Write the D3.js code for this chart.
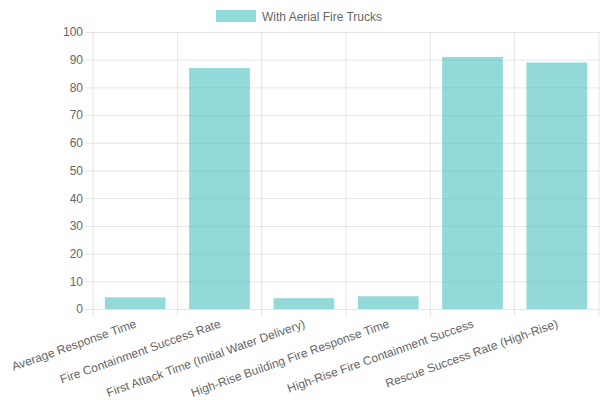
<!DOCTYPE html>
<html>
<head>
<meta charset="utf-8">
<script src="https://cdn.jsdelivr.net/npm/d3@7"></script>
<style>
  body { margin: 0; background: #fff; }
  svg { font-family: "Liberation Sans", Arial, sans-serif; }
</style>
</head>
<body>
<div id="chart"></div>
<script>
const categories = [
  "Average Response Time",
  "Fire Containment Success Rate",
  "First Attack Time (Initial Water Delivery)",
  "High-Rise Building Fire Response Time",
  "High-Rise Fire Containment Success",
  "Rescue Success Rate (High-Rise)"
];
const seriesName = "With Aerial Fire Trucks";
const values = [4.2, 87, 3.9, 4.6, 91, 89];
const yTicks = [0, 10, 20, 30, 40, 50, 60, 70, 80, 90, 100];

const width = 600, height = 400;
const margin = {top: 32, right: 1, bottom: 91, left: 93};
const innerW = width - margin.left - margin.right;
const innerH = height - margin.top - margin.bottom;

const fill = "rgba(75,192,192,0.6)";
const grid = "rgba(0,0,0,0.1)";
const textColor = "#666";

const svg = d3.select("#chart").append("svg")
  .attr("width", width)
  .attr("height", height);

// legend
const legend = svg.append("g").attr("transform", "translate(216,10)");
legend.append("rect").attr("width", 40).attr("height", 12).attr("fill", fill);
legend.append("text")
  .attr("x", 46).attr("y", 10.5)
  .attr("font-size", 12).attr("fill", textColor)
  .text(seriesName);

const g = svg.append("g")
  .attr("transform", "translate(" + margin.left + "," + margin.top + ")");

const x = d3.scaleBand().domain(categories).range([0, innerW]);
const y = d3.scaleLinear().domain([0, 100]).range([innerH, 0]);

// horizontal grid + y ticks
g.append("g")
  .call(d3.axisLeft(y).tickValues(yTicks).tickSize(-innerW).tickPadding(10))
  .call(s => s.select(".domain").remove())
  .call(s => s.selectAll(".tick line").attr("stroke", grid).attr("x1", -8))
  .call(s => s.selectAll(".tick text")
    .attr("fill", textColor).attr("font-size", 12)
    .attr("font-family", "Liberation Sans, Arial, sans-serif"));

// vertical grid lines at category edges
const edges = categories.map(c => x(c)).concat([innerW]);
g.append("g").selectAll("line")
  .data(edges)
  .join("line")
  .attr("x1", d => d).attr("x2", d => d)
  .attr("y1", 0).attr("y2", innerH + 8)
  .attr("stroke", grid);

// bars
const barW = x.bandwidth() * 0.72;
g.append("g").selectAll("rect")
  .data(values)
  .join("rect")
  .attr("x", (d, i) => x(categories[i]) + (x.bandwidth() - barW) / 2)
  .attr("y", d => y(d))
  .attr("width", barW)
  .attr("height", d => innerH - y(d))
  .attr("fill", fill);

// x labels, rotated
g.append("g").selectAll("text")
  .data(categories)
  .join("text")
  .attr("transform", d => "translate(" + (x(d) + x.bandwidth() / 2 + 2) + "," + (innerH + 18) + ") rotate(-19.5)")
  .attr("text-anchor", "end")
  .attr("font-size", 12)
  .attr("fill", textColor)
  .text(d => d);
</script>
</body>
</html>
